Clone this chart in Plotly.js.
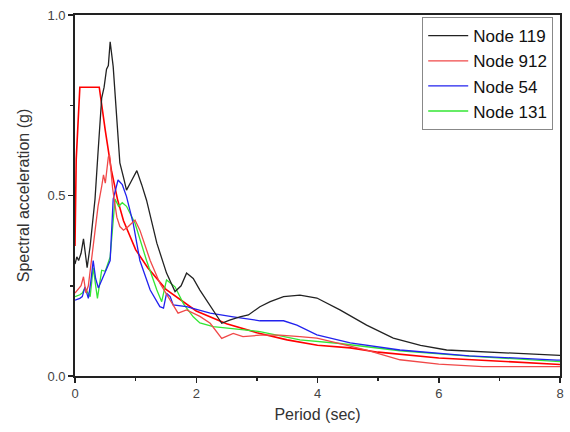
<!DOCTYPE html>
<html>
<head>
<meta charset="utf-8">
<script src="https://cdn.plot.ly/plotly-3.0.1.min.js"></script>
<style>html,body{margin:0;padding:0;background:#fff;}#chart{width:570px;height:432px;}</style>
</head>
<body>
<div id="chart"></div>
<script>
// Node 119 (black)
const node119_T  = [0, 0.03, 0.06, 0.10, 0.14, 0.17, 0.20, 0.25, 0.30, 0.33, 0.38, 0.44, 0.48, 0.52, 0.55, 0.58, 0.63, 0.67, 0.71, 0.74, 0.80, 0.85, 0.93, 1.02, 1.10, 1.18, 1.35, 1.51, 1.65, 1.75, 1.84, 1.95, 2.06, 2.25, 2.42, 2.55, 2.72, 2.86, 3.05, 3.22, 3.44, 3.71, 3.99, 4.37, 4.81, 5.25, 5.70, 6.13, 7.00, 7.95, 8.0];
const node119_Sa = [0.31, 0.33, 0.32, 0.34, 0.38, 0.33, 0.30, 0.36, 0.44, 0.49, 0.62, 0.77, 0.80, 0.85, 0.86, 0.926, 0.857, 0.76, 0.67, 0.59, 0.55, 0.515, 0.54, 0.569, 0.53, 0.487, 0.368, 0.285, 0.234, 0.25, 0.285, 0.27, 0.238, 0.19, 0.146, 0.155, 0.164, 0.169, 0.192, 0.206, 0.22, 0.224, 0.216, 0.183, 0.141, 0.105, 0.085, 0.072, 0.065, 0.058, 0.057];

// Node 912 (red, jagged)
const node912_T  = [0, 0.05, 0.10, 0.14, 0.18, 0.22, 0.28, 0.33, 0.38, 0.44, 0.47, 0.50, 0.55, 0.57, 0.62, 0.69, 0.74, 0.80, 0.88, 0.99, 1.07, 1.24, 1.40, 1.57, 1.70, 1.84, 2.06, 2.23, 2.42, 2.61, 2.77, 3.05, 3.38, 3.71, 3.99, 4.37, 4.81, 5.36, 6.00, 6.73, 8.0];
const node912_Sa = [0.23, 0.24, 0.25, 0.275, 0.23, 0.25, 0.33, 0.395, 0.47, 0.525, 0.557, 0.534, 0.607, 0.612, 0.52, 0.44, 0.414, 0.404, 0.414, 0.432, 0.404, 0.32, 0.257, 0.21, 0.174, 0.183, 0.165, 0.146, 0.104, 0.118, 0.109, 0.113, 0.113, 0.109, 0.105, 0.09, 0.072, 0.045, 0.033, 0.026, 0.026];

// Node 54 (blue)
const node54_T  = [0, 0.08, 0.12, 0.165, 0.22, 0.26, 0.30, 0.34, 0.385, 0.45, 0.52, 0.58, 0.63, 0.71, 0.78, 0.85, 0.96, 1.07, 1.24, 1.40, 1.46, 1.51, 1.57, 1.62, 1.84, 2.06, 2.23, 2.61, 3.05, 3.44, 3.66, 3.99, 4.54, 5.36, 6.50, 7.95, 8.0];
const node54_Sa = [0.21, 0.215, 0.22, 0.247, 0.215, 0.26, 0.32, 0.27, 0.244, 0.27, 0.30, 0.32, 0.49, 0.543, 0.53, 0.497, 0.423, 0.32, 0.238, 0.192, 0.188, 0.229, 0.22, 0.197, 0.192, 0.183, 0.174, 0.164, 0.153, 0.153, 0.141, 0.114, 0.092, 0.072, 0.056, 0.044, 0.044];

// Node 131 (green)
const node131_T  = [0, 0.08, 0.12, 0.165, 0.25, 0.30, 0.37, 0.44, 0.50, 0.58, 0.66, 0.72, 0.78, 0.85, 0.99, 1.18, 1.35, 1.43, 1.51, 1.65, 1.79, 1.95, 2.06, 2.28, 3.05, 3.71, 4.37, 4.81, 5.36, 6.50, 7.95, 8.0];
const node131_Sa = [0.22, 0.225, 0.23, 0.244, 0.22, 0.30, 0.215, 0.293, 0.29, 0.33, 0.49, 0.47, 0.48, 0.47, 0.423, 0.32, 0.238, 0.206, 0.266, 0.247, 0.20, 0.164, 0.147, 0.137, 0.123, 0.10, 0.09, 0.081, 0.07, 0.055, 0.04, 0.04];

// Smooth red spectrum (not in legend)
const design_T  = [0, 0.02, 0.08, 0.40, 0.50, 0.60, 0.70, 0.80, 1.00, 1.20, 1.50, 2.00, 2.50, 3.00, 3.50, 4.00, 4.54, 5.00, 6.00, 7.00, 7.95, 8.0];
const design_Sa = [0.36, 0.60, 0.80, 0.80, 0.68, 0.57, 0.49, 0.43, 0.35, 0.30, 0.24, 0.18, 0.145, 0.12, 0.10, 0.085, 0.078, 0.066, 0.05, 0.04, 0.032, 0.032];

const names = ['Node 119', 'Node 912', 'Node 54', 'Node 131'];

const traces = [
  {x: design_T, y: design_Sa, mode: 'lines', showlegend: false, line: {color: '#ff0000', width: 1.6}, hoverinfo: 'skip'},
  {x: node131_T, y: node131_Sa, name: names[3], mode: 'lines', line: {color: '#33e633', width: 1.3}},
  {x: node54_T, y: node54_Sa, name: names[2], mode: 'lines', line: {color: '#2222ee', width: 1.3}},
  {x: node912_T, y: node912_Sa, name: names[1], mode: 'lines', line: {color: '#f04848', width: 1.3}},
  {x: node119_T, y: node119_Sa, name: names[0], mode: 'lines', line: {color: '#222222', width: 1.3}}
];

const layout = {
  width: 570, height: 432,
  margin: {l: 75, r: 10, t: 15, b: 56},
  paper_bgcolor: '#fff', plot_bgcolor: '#fff',
  font: {family: 'Liberation Sans, Arial, sans-serif', color: '#333'},
  showlegend: true,
  legend: {
    x: 0.986, xanchor: 'right', y: 0.994, yanchor: 'top',
    bordercolor: '#888', borderwidth: 1, bgcolor: '#fff',
    font: {size: 17, color: '#111'},
    traceorder: 'reversed', tracegroupgap: 0, itemwidth: 40
  },
  xaxis: {
    range: [0, 8], dtick: 2, tick0: 0,
    ticks: 'outside', ticklen: 5, tickwidth: 1.5, tickcolor: '#222',
    minor: {dtick: 1, ticks: 'outside', ticklen: 3, tickcolor: '#222', showgrid: false},
    showline: true, linecolor: '#222', linewidth: 1.8, mirror: true,
    showgrid: false, zeroline: false,
    tickfont: {size: 13, color: '#444'},
    title: {text: 'Period (sec)', font: {size: 16, color: '#333'}, standoff: 8}
  },
  yaxis: {
    range: [0, 1.0], dtick: 0.5, tick0: 0, tickformat: '.1f',
    ticks: 'outside', ticklen: 5, tickwidth: 1.5, tickcolor: '#222',
    minor: {dtick: 0.25, ticks: 'outside', ticklen: 3, tickcolor: '#222', showgrid: false},
    showline: true, linecolor: '#222', linewidth: 1.8, mirror: true,
    showgrid: false, zeroline: false,
    tickfont: {size: 13, color: '#444'},
    title: {text: 'Spectral acceleration (g)', font: {size: 16, color: '#333'}, standoff: 14}
  }
};

Plotly.newPlot('chart', traces, layout, {displayModeBar: false, staticPlot: true});
</script>
</body>
</html>
